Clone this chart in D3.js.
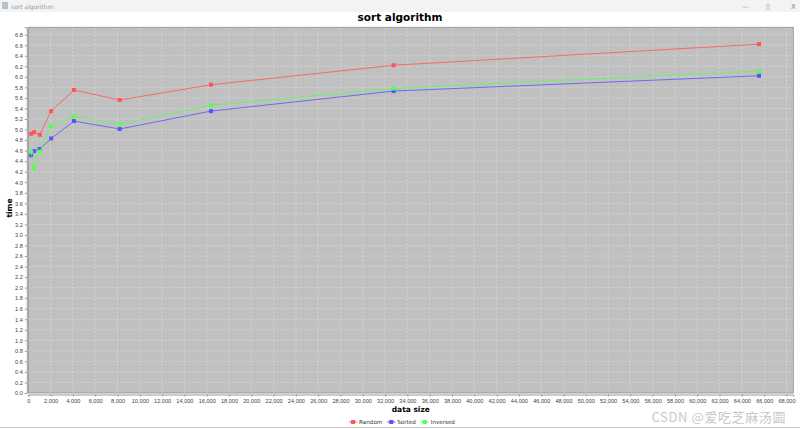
<!DOCTYPE html>
<html><head><meta charset="utf-8">
<script src="https://cdn.jsdelivr.net/npm/d3@7/dist/d3.min.js"></script>
<style>body{margin:0;background:#fff;}svg{display:block;font-family:"DejaVu Sans",sans-serif;}</style>
</head><body><svg id="c" width="800" height="429"></svg>
<script>
const sizes = [256, 512, 1024, 2048, 4096, 8192, 16384, 32768, 65536];
const randomTimes = [4.92, 4.95, 4.90, 5.35, 5.75, 5.56, 5.85, 6.22, 6.62];
const sortedTimes = [4.51, 4.59, 4.63, 4.83, 5.16, 5.01, 5.35, 5.73, 6.02];
const inversedTimes = [4.58, 4.26, 4.58, 5.06, 5.25, 5.10, 5.46, 5.78, 6.11];
const seriesNames = ["Random", "Sorted", "Inversed"];
const seriesColors = ["#ff5555", "#5555ff", "#55ff55"];
const xTicks = d3.range(0, 68001, 2000);
const yTicks = d3.range(0, 35).map(i => +(i * 0.2).toFixed(1));

const svg = d3.select("#c");
const L = 28.3, R = 793.3, T = 27.3, B = 393;
const x = d3.scaleLinear().domain([0, 68610]).range([L, R]);
const y = d3.scaleLinear().domain([0, 6.94]).range([B, T]);

// window title bar
svg.append("rect").attr("x",0).attr("y",0).attr("width",800).attr("height",12).attr("fill","#f3f3f3");
svg.append("rect").attr("x",2).attr("y",2).attr("width",6).attr("height",7).attr("fill","#9ab").attr("opacity",0.7);
svg.append("text").attr("x",11).attr("y",8.5).attr("font-size",6).attr("fill","#999").text("sort algorithm");
svg.append("text").attr("x",742).attr("y",8.5).attr("font-size",7).attr("fill","#aaa").text("—");
svg.append("text").attr("x",766).attr("y",8.5).attr("font-size",7).attr("fill","#888").text("▯");
svg.append("text").attr("x",791).attr("y",8.5).attr("font-size",7).attr("fill","#888").text("X");

// title
svg.append("text").attr("x",400).attr("y",21).attr("text-anchor","middle")
  .attr("font-size",10.5).attr("font-weight","bold").attr("fill","#000").text("sort algorithm");

// plot background
svg.append("rect").attr("x",L).attr("y",T).attr("width",R-L).attr("height",B-T).attr("fill","#c0c0c0");

// grid
const g = svg.append("g");
g.selectAll(".vg").data(xTicks.filter(d=>d>0)).enter().append("line")
  .attr("x1",d=>x(d)).attr("x2",d=>x(d)).attr("y1",T).attr("y2",B)
  .attr("stroke","#e2e2e2").attr("stroke-width",0.6).attr("stroke-dasharray","2,2");
g.selectAll(".hg").data(yTicks.filter(d=>d>0)).enter().append("line")
  .attr("x1",L).attr("x2",R).attr("y1",d=>y(d)).attr("y2",d=>y(d))
  .attr("stroke","#e2e2e2").attr("stroke-width",0.6).attr("stroke-dasharray","2,2");

// outline
svg.append("rect").attr("x",L).attr("y",T).attr("width",R-L).attr("height",B-T)
  .attr("fill","none").attr("stroke","#909090").attr("stroke-width",0.8);

// axes
const xAxis = d3.axisBottom(x).tickValues(xTicks).tickFormat(d3.format(",")).tickSize(2).tickPadding(3);
const gx = svg.append("g").attr("transform",`translate(0,${B+1.5})`).call(xAxis);
gx.select(".domain").attr("stroke","#999");
gx.selectAll(".tick line").attr("stroke","#999");
gx.selectAll("text").attr("font-size",5.6).attr("fill","#444");

const yAxis = d3.axisLeft(y).tickValues(yTicks).tickFormat(d3.format(".1f")).tickSize(2).tickPadding(2);
const gy = svg.append("g").attr("transform",`translate(${L-1.5},0)`).call(yAxis);
gy.select(".domain").attr("stroke","#999");
gy.selectAll(".tick line").attr("stroke","#999");
gy.selectAll("text").attr("font-size",5.6).attr("fill","#444");

svg.append("text").attr("x",(L+R)/2).attr("y",412).attr("text-anchor","middle")
  .attr("font-size",7.5).attr("font-weight","bold").text("data size");
svg.append("text").attr("transform","translate(12,208) rotate(-90)").attr("text-anchor","middle")
  .attr("font-size",7.5).attr("font-weight","bold").text("time");

// series
const allSeries = [randomTimes, sortedTimes, inversedTimes];
const line = d3.line().x((d,i)=>x(sizes[i])).y(d=>y(d));
allSeries.forEach((vals, si) => {
  svg.append("path").datum(vals).attr("d", line).attr("fill","none")
    .attr("stroke", seriesColors[si]).attr("stroke-width",1).attr("opacity",0.8);
  svg.selectAll(".m"+si).data(vals).enter().append("rect")
    .attr("x",(d,i)=>x(sizes[i])-2).attr("y",d=>y(d)-2)
    .attr("width",4).attr("height",4).attr("fill",seriesColors[si]);
});

// legend: laid out sequentially
const leg = svg.append("g");
let cx = 0;
seriesNames.forEach((n, i) => {
  const lg = leg.append("g").attr("transform",`translate(${cx},0)`);
  lg.append("line").attr("x1",0).attr("x2",8).attr("y1",0).attr("y2",0).attr("stroke",seriesColors[i]).attr("stroke-width",1);
  lg.append("rect").attr("x",2).attr("y",-2).attr("width",4).attr("height",4).attr("fill",seriesColors[i]);
  const t = lg.append("text").attr("x",10).attr("y",2).attr("font-size",5.6).attr("fill","#333").text(n);
  cx += 10 + t.node().getComputedTextLength() + 5;
});
leg.attr("transform",`translate(${402 - (cx-5)/2},422)`);

// watermark
svg.append("text").attr("x",786).attr("y",422).attr("text-anchor","end")
  .attr("font-family","'Noto Sans CJK SC', sans-serif").attr("font-size",13).attr("fill","#c8c8c8")
  .attr("letter-spacing",0.6)
  .text("CSDN @爱吃芝麻汤圆");

// bottom border
svg.append("line").attr("x1",0).attr("x2",800).attr("y1",427.5).attr("y2",427.5).attr("stroke","#ccc");
</script></body></html>
